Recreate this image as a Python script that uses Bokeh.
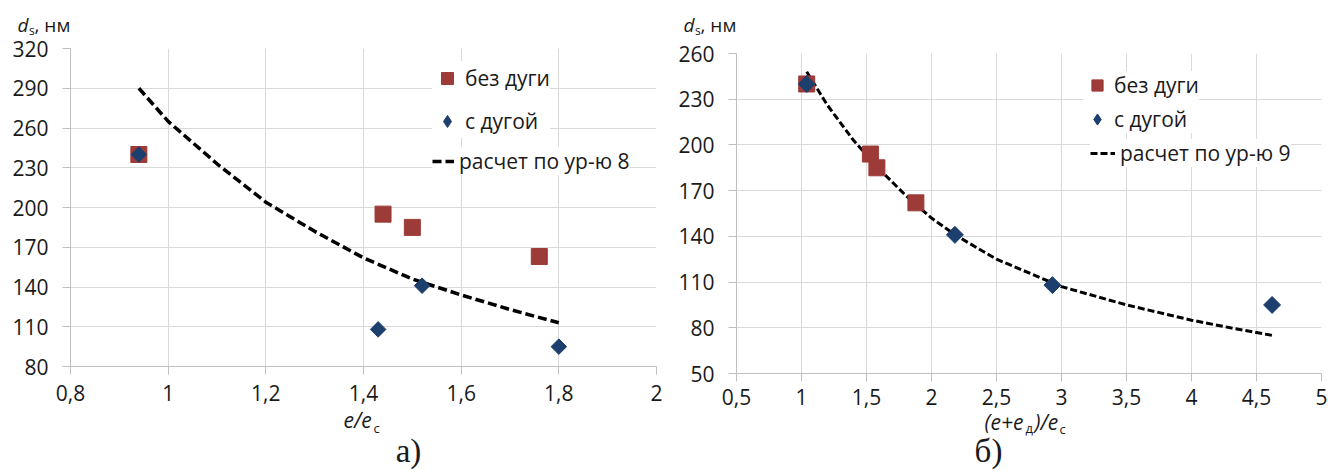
from bokeh.plotting import figure
from bokeh.layouts import row, column
from bokeh.models import Range1d, FixedTicker, Legend, LegendItem
from bokeh.core.properties import value
from bokeh.embed import file_html
from bokeh.resources import INLINE

# ---------------- data ----------------
# left chart (a): d_s vs e/e_c
a_xticks = [0.8, 1.0, 1.2, 1.4, 1.6, 1.8, 2.0]
a_xlabels = ["0,8", "1", "1,2", "1,4", "1,6", "1,8", "2"]
a_yticks = [80, 110, 140, 170, 200, 230, 260, 290, 320]
a_red_x = [0.94, 1.44, 1.50, 1.76]
a_red_y = [240, 195, 185, 163]
a_blue_x = [0.94, 1.43, 1.52, 1.80]
a_blue_y = [240, 108, 141, 95]
a_curve_x = [0.94, 1.0, 1.1, 1.2, 1.3, 1.4, 1.5, 1.6, 1.7, 1.8]
a_curve_y = [290, 265, 233, 204, 182, 162, 146, 134, 123, 113]

# right chart (б): d_s vs (e+e_д)/e_c
b_xticks = [0.5, 1.0, 1.5, 2.0, 2.5, 3.0, 3.5, 4.0, 4.5, 5.0]
b_xlabels = ["0,5", "1", "1,5", "2", "2,5", "3", "3,5", "4", "4,5", "5"]
b_yticks = [50, 80, 110, 140, 170, 200, 230, 260]
b_red_x = [1.04, 1.53, 1.58, 1.88]
b_red_y = [240, 194, 185, 162]
b_blue_x = [1.04, 2.18, 2.93, 4.62]
b_blue_y = [240, 141, 108, 95]
b_curve_x = [1.04, 1.2, 1.4, 1.6, 1.8, 2.0, 2.2, 2.5, 3.0, 3.5, 4.0, 4.3, 4.62]
b_curve_y = [248, 226, 203, 184, 167, 152, 140, 125, 107, 95, 85, 80, 75]

legend_labels = ["без дуги", "с дугой"]
curve_labels = ["расчет по ур-ю 8", "расчет по ур-ю 9"]

RED = "#9C3B37"
BLUE = "#1C3F6E"
GRID = "#D9D9D9"
AXIS = "#BFBFBF"
TXT = "#1a1a1a"
FONT = "Open Sans"
SERIF = "Liberation Serif"


def no_align(f):
    try:
        f.frame_align = False
    except Exception:
        pass


def style(p, xticks, xlabels, yticks, xstand, ystand):
    p.outline_line_color = None
    p.border_fill_alpha = 0.0
    p.xaxis.ticker = FixedTicker(ticks=xticks)
    p.yaxis.ticker = FixedTicker(ticks=yticks)
    p.xgrid.ticker = FixedTicker(ticks=xticks)
    p.ygrid.ticker = FixedTicker(ticks=yticks)
    p.xaxis.major_label_overrides = {t: l for t, l in zip(xticks, xlabels)}
    for g in (p.xgrid, p.ygrid):
        g.grid_line_color = GRID
        g.grid_line_width = 1
    for ax in (p.xaxis, p.yaxis):
        ax.axis_line_color = AXIS
        ax.major_tick_line_color = AXIS
        ax.major_tick_out = 8
        ax.major_tick_in = 0
        ax.minor_tick_out = 0
        ax.minor_tick_in = 0
        ax.major_label_text_font = FONT
        ax.major_label_text_font_size = "21px"
        ax.major_label_text_color = TXT
    p.xaxis.major_label_standoff = xstand
    p.yaxis.major_label_standoff = ystand


def make_chart(W, H, fl, fr, ft, fb, xr, yr, xticks, xlabels, yticks, xstand,
               rx, ry, bx, by, cx, cy, sq, dm, lw, dash, curve_label,
               leg1, leg2, g1, g2, mtop):
    p = figure(width=W, height=H, x_range=Range1d(*xr), y_range=Range1d(*yr),
               min_border_left=fl, min_border_right=fr, min_border_top=ft,
               min_border_bottom=fb, output_backend="svg", toolbar_location=None,
               margin=(mtop, 0, 0, 0))
    no_align(p)
    style(p, xticks, xlabels, yticks, xstand, 14)
    r_curve = p.line(cx, cy, line_color="black", line_width=lw, line_dash=dash)
    r_red = p.scatter(rx, ry, marker="square", size=sq, fill_color=RED, line_color=RED)
    # tiny diamond proxy (hidden under the blue marks) used only for the legend glyph
    r_leg_blue = p.scatter(bx, by, marker="diamond", size=1, fill_color=BLUE, line_color=BLUE)
    p.scatter(bx, by, marker="square", angle=0.785398, size=dm, fill_color=BLUE, line_color=BLUE)

    L1 = Legend(items=[LegendItem(label=legend_labels[0], renderers=[r_red]),
                       LegendItem(label=legend_labels[1], renderers=[r_leg_blue])],
                location=leg1, glyph_width=g1[0], glyph_height=g1[1], spacing=g1[2],
                padding=4, margin=0, label_standoff=3)
    L2 = Legend(items=[LegendItem(label=curve_label, renderers=[r_curve])],
                location=leg2, glyph_width=g2[0], glyph_height=g2[1],
                padding=4, margin=0, label_standoff=5)
    for L in (L1, L2):
        L.background_fill_color = "white"
        L.background_fill_alpha = 1.0
        L.border_line_color = None
        L.label_text_font = FONT
        L.label_text_font_size = "21px"
        L.label_text_color = TXT
        p.add_layout(L, "center")
    return p


def strip(W, H, mtop=0):
    s = figure(width=W, height=H, x_range=Range1d(0, W), y_range=Range1d(H, 0),
               min_border=0, min_border_left=0, min_border_right=0,
               min_border_top=0, min_border_bottom=0,
               x_axis_type=None, y_axis_type=None,
               output_backend="svg", toolbar_location=None, margin=(mtop, 0, 0, 0))
    no_align(s)
    s.outline_line_color = None
    s.background_fill_alpha = 0.0
    s.border_fill_alpha = 0.0
    return s


def put(s, x, y, text, size, style="normal", font=FONT, align="left"):
    s.text(x=[x], y=[y], text=[text], text_font=value(font), text_font_size=value(size),
           text_font_style=style, text_color=TXT, text_baseline="alphabetic",
           text_align=align)


# ---------- left chart ----------
top1 = strip(672, 38)
put(top1, 17, 24.5, "d", "19px", "italic")
put(top1, 28.5, 29.5, "s", "12px")
put(top1, 34, 24.5, ", нм", "19px")

p1 = make_chart(672, 380, 70, 16, 15, 47, (0.8, 2.0), (80, 320), a_xticks, a_xlabels, a_yticks, 10,
                a_red_x, a_red_y, a_blue_x, a_blue_y, a_curve_x, a_curve_y,
                16, 11, 3.5, "9 4", curve_labels[0],
                (362, 228), (362, 191), (30, 34, 9), (22, 20), -5)

bot1 = strip(672, 67, -10)
put(bot1, 343, 16, "e/e", "21px", "italic")
put(bot1, 373, 24, "c", "13px")
put(bot1, 408, 47, "а)", "33px", "normal", SERIF, "center")

# ---------- right chart ----------
top2 = strip(656, 38)
put(top2, 11, 24.5, "d", "19px", "italic")
put(top2, 22.5, 29.5, "s", "12px")
put(top2, 28, 24.5, ", нм", "19px")

p2 = make_chart(656, 384, 64, 7, 20, 44, (0.5, 5.0), (50, 260), b_xticks, b_xlabels, b_yticks, 7,
                b_red_x, b_red_y, b_blue_x, b_blue_y, b_curve_x, b_curve_y,
                16, 12, 3, "7 3", curve_labels[1],
                (347, 240), (354, 206), (28, 28, 6), (25, 20), -5)

bot2 = strip(656, 65, -12)
put(bot2, 312, 16, "(e+e", "21px", "italic")
put(bot2, 353, 22, "д", "13px")
put(bot2, 362, 16, ")/e", "21px", "italic")
put(bot2, 387, 23, "c", "13px")
put(bot2, 316, 45, "б)", "33px", "normal", SERIF, "center")

layout = row(column(top1, p1, bot1, spacing=0), column(top2, p2, bot2, spacing=0), spacing=0)
open("out.html", "w").write(file_html(layout, INLINE, title="chart"))
